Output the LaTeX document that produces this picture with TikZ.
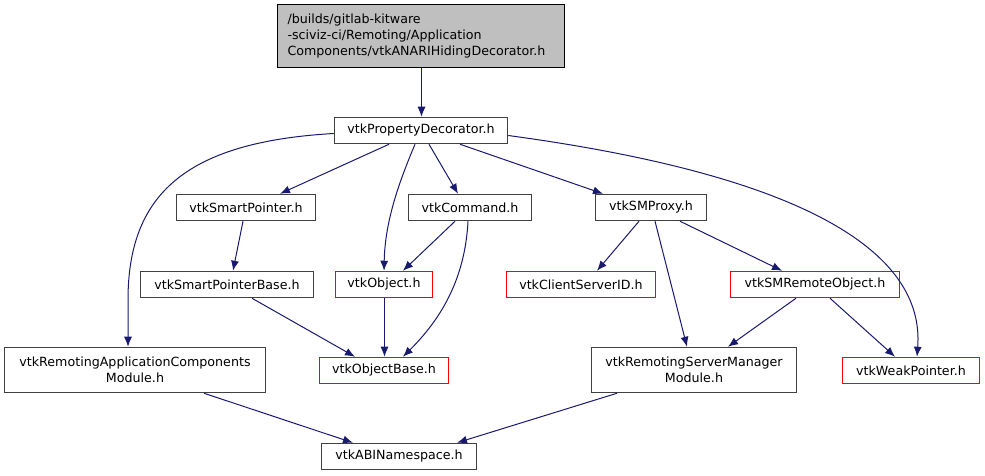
\documentclass[tikz,border=0pt]{standalone}
\usepackage{fontspec}
\setmainfont{DejaVu Sans}
\usepackage{xcolor}
\usepackage{tikz}
\usetikzlibrary{arrows.meta, calc}

\definecolor{edgeblue}{HTML}{191970}
\definecolor{boxgray}{HTML}{404040}
\definecolor{linkred}{HTML}{FF0000}
\definecolor{topfill}{HTML}{BFBFBF}

\begin{document}
\begin{tikzpicture}[
    x=1bp, y=-1bp,
    box/.style={
        rectangle,
        draw=boxgray,
        line width=1.5bp,
        inner sep=0pt,
        minimum height=26bp,
        align=center,
        font=\fontsize{12.7}{16}\selectfont
    },
    redbox/.style={
        box,
        draw=linkred
    },
    twobox/.style={
        box,
        minimum height=45bp
    },
    topbox/.style={
        box,
        draw=black,
        fill=topfill,
        minimum width=287bp,
        minimum height=63bp,
        text width=267bp,
        align=left
    },
    arrow/.style={-{Latex[length=10bp, width=8bp]}, edgeblue, line width=1bp}
]

\useasboundingbox (0,0) rectangle (985,476);

% top row
\node[topbox] (hiding) at (421,36) {
    /builds/gitlab-kitware\\
    -sciviz-ci/Remoting/Application\\
    Components/vtkANARIHidingDecorator.h
};
\node[box, minimum width=173bp] (propdec) at (421,130.5) {vtkPropertyDecorator.h};

% second row
\node[box, minimum width=139bp] (smartptr) at (246,207.5) {vtkSmartPointer.h};
\node[box, minimum width=123bp] (command) at (470,207.5) {vtkCommand.h};
\node[box, minimum width=111bp] (smproxy) at (651,207.5) {vtkSMProxy.h};

% third row
\node[box, minimum width=173bp] (smartbase) at (227,284.5) {vtkSmartPointerBase.h};
\node[redbox, minimum width=97bp] (object) at (384,284.5) {vtkObject.h};
\node[redbox, minimum width=149bp] (csid) at (581,284.5) {vtkClientServerID.h};
\node[redbox, minimum width=169bp] (smremote) at (815,284.5) {vtkSMRemoteObject.h};

% fourth row
\node[twobox, minimum width=261bp] (appmod) at (135,370) {
    vtkRemotingApplicationComponents\\
    Module.h
};
\node[redbox, minimum width=129bp] (objbase) at (384,370.5) {vtkObjectBase.h};
\node[twobox, minimum width=205bp] (srvmod) at (694,370) {
    vtkRemotingServerManager\\
    Module.h
};
\node[redbox, minimum width=137bp] (weakptr) at (911,370.5) {vtkWeakPointer.h};

% bottom
\node[box, minimum width=155bp] (abi) at (399,456.5) {vtkABINamespace.h};

% edges
\draw[arrow] ([xshift=0.5bp]hiding.south) -- ([xshift=0.5bp]propdec.north);
\draw[arrow] ([yshift=-3bp]propdec.west) .. controls (185,142) and (128,195) .. (128,300) -- ([xshift=-7bp]appmod.north);
\draw[arrow] ([xshift=-32bp]propdec.south) -- ([xshift=34bp]smartptr.north);
\draw[arrow] ([xshift=-6bp]propdec.south) .. controls (400,180) and (385,220) .. (object.north);
\draw[arrow] ([xshift=8bp]propdec.south) -- ([xshift=-12bp]command.north);
\draw[arrow] ([xshift=39bp]propdec.south) -- ([xshift=-48bp]smproxy.north);
\draw[arrow] ([yshift=-5bp]propdec.east) .. controls (800,175) and (925,250) .. ([xshift=6bp]weakptr.north);

\draw[arrow] ([xshift=-3bp]smartptr.south) -- ([xshift=6bp]smartbase.north);
\draw[arrow] ([xshift=-15bp]command.south) -- ([xshift=19bp]object.north);
\draw[arrow] ([xshift=-2bp]command.south) .. controls (465,280) and (440,320) .. ([xshift=19bp]objbase.north);
\draw[arrow] ([xshift=-12bp]smproxy.south) -- ([xshift=16bp]csid.north);
\draw[arrow] ([xshift=4bp]smproxy.south) -- ([xshift=-7bp]srvmod.north);
\draw[arrow] ([xshift=29bp]smproxy.south) -- ([xshift=-33bp]smremote.north);

\draw[arrow] ([xshift=25bp]smartbase.south) -- ([xshift=-29bp]objbase.north);
\draw[arrow] ([xshift=0.5bp]object.south) -- ([xshift=0.5bp]objbase.north);
\draw[arrow] ([xshift=-19bp]smremote.south) -- ([xshift=34bp]srvmod.north);
\draw[arrow] ([xshift=15bp]smremote.south) -- ([xshift=-16bp]weakptr.north);

\draw[arrow] ([xshift=69bp]appmod.south) -- ([xshift=-46bp]abi.north);
\draw[arrow] ([xshift=-77bp]srvmod.south) -- ([xshift=58bp]abi.north);

\end{tikzpicture}
\end{document}
